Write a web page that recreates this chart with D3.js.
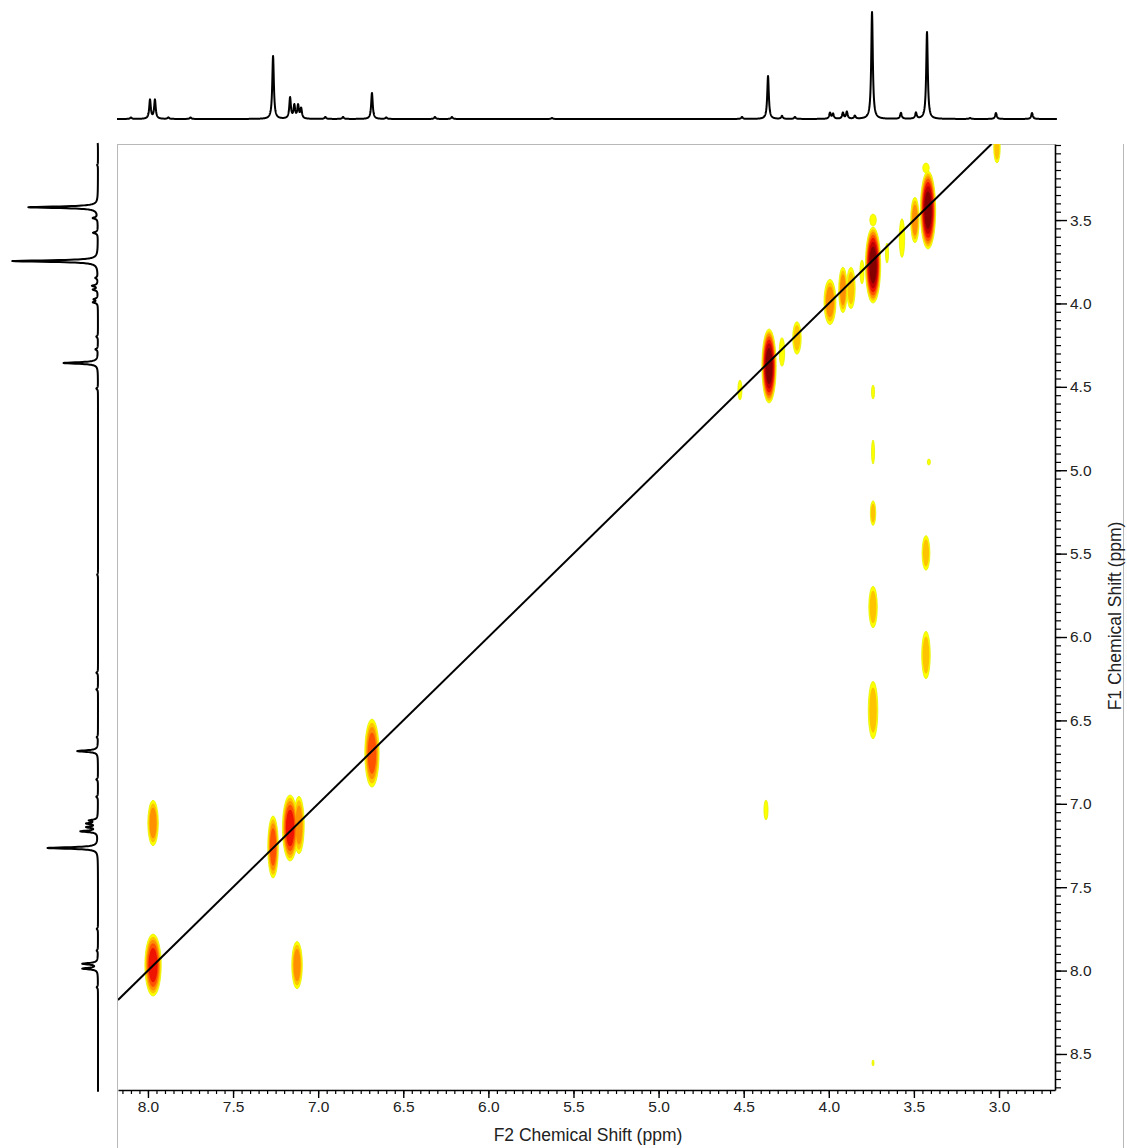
<!DOCTYPE html>
<html>
<head>
<meta charset="utf-8">
<script src="https://cdn.jsdelivr.net/npm/d3@7"></script>
<style>
  html, body { margin: 0; padding: 0; background: #ffffff; }
  svg { display: block; }
  text { font-family: "Liberation Sans", Arial, sans-serif; fill: #222; }
</style>
</head>
<body>
<svg id="chart" width="1127" height="1148"></svg>
<script>
// ---------- DATA ----------
// axis tick labels (ppm)
const f2TickLabels = [8.0, 7.5, 7.0, 6.5, 6.0, 5.5, 5.0, 4.5, 4.0, 3.5, 3.0];
const f1TickLabels = [3.5, 4.0, 4.5, 5.0, 5.5, 6.0, 6.5, 7.0, 7.5, 8.0, 8.5];
const f2Range = [8.176, 2.671];   // displayed F2 window (ppm)
const f1Range = [3.044, 8.716];   // displayed F1 window (ppm)

// 1D projection peaks: shift (ppm), relative height
const peak1DShift  = [8.10, 7.988, 7.959, 7.88, 7.75, 7.265, 7.165, 7.140, 7.118, 7.100, 6.958, 6.854, 6.684, 6.60, 6.314, 6.214, 5.626,
                      4.510, 4.357, 4.275, 4.199, 3.993, 3.975, 3.917, 3.894, 3.847, 3.746, 3.576, 3.488, 3.423, 3.17, 3.018, 2.806];
const peak1DHeight = [1.5, 19, 19, 1.5, 1.5, 63, 21, 13, 13, 10, 2, 2, 26, 1.5, 2, 2, 1,
                      2, 43, 3, 2, 6, 5, 6, 7, 3, 107, 6, 6, 87, 1, 6, 6];

// 2D cross/diagonal peaks: F2 (ppm), F1 (ppm), outer half-widths (ppm), number of contour levels reached
const peak2DF2    = [7.970, 7.970, 7.265, 7.165, 7.113, 7.124, 6.684, 4.351, 4.275, 4.187, 4.522, 3.993, 3.917, 3.870, 3.805, 3.740,
                     3.740, 3.658, 3.570, 3.494, 3.417, 3.429, 3.012, 3.740, 3.740, 3.740, 3.740, 3.740, 3.740, 3.412, 3.429, 3.429, 4.369];
const peak2DF1    = [7.967, 7.115, 7.259, 7.145, 7.127, 7.967, 6.696, 4.375, 4.291, 4.207, 4.519, 3.991, 3.919, 3.907, 3.811, 3.770,
                     3.500, 3.698, 3.608, 3.500, 3.440, 3.188, 3.068, 4.531, 4.891, 5.257, 5.820, 6.438, 8.554, 4.951, 5.496, 6.108, 7.037];
const peak2DWidthF2 = [0.048, 0.031, 0.031, 0.045, 0.031, 0.031, 0.042, 0.042, 0.016, 0.025, 0.012, 0.035, 0.025, 0.025, 0.012, 0.045,
                       0.019, 0.009, 0.016, 0.025, 0.045, 0.019, 0.019, 0.009, 0.009, 0.016, 0.025, 0.028, 0.006, 0.009, 0.023, 0.025, 0.012];
const peak2DWidthF1 = [0.186, 0.136, 0.186, 0.198, 0.172, 0.142, 0.204, 0.222, 0.086, 0.098, 0.060, 0.136, 0.136, 0.124, 0.072, 0.228,
                       0.036, 0.060, 0.116, 0.136, 0.234, 0.030, 0.090, 0.042, 0.072, 0.074, 0.124, 0.172, 0.018, 0.018, 0.104, 0.142, 0.060];
const peak2DLevels  = [5, 3, 4, 5, 3, 3, 4, 7, 1, 2, 1, 3, 3, 2, 1, 7,
                       1, 1, 1, 3, 7, 1, 2, 1, 1, 2, 2, 2, 1, 1, 2, 2, 1];

const contourColors = ["#ffff00", "#ffc400", "#ff9000", "#ff5200", "#ee1400", "#c00000", "#840000"];

// ---------- LAYOUT ----------
const svg = d3.select("#chart");
const plot = { left: 118, right: 1055, top: 144, bottom: 1090 };

const x = d3.scaleLinear().domain(f2Range).range([plot.left, plot.right]);
const y = d3.scaleLinear().domain(f1Range).range([plot.top, plot.bottom]);

// background frame (light grey)
const frame = svg.append("g").attr("stroke", "#b8b8b8").attr("stroke-width", 1).attr("fill", "none");
frame.append("line").attr("x1", plot.left - 0.5).attr("x2", plot.right).attr("y1", plot.top + 0.5).attr("y2", plot.top + 0.5);
frame.append("line").attr("x1", plot.left - 0.5).attr("x2", plot.left - 0.5).attr("y1", plot.top).attr("y2", 1148);
frame.append("line").attr("x1", 1123.5).attr("x2", 1123.5).attr("y1", plot.top).attr("y2", 1148);

// clip for 2D area
svg.append("clipPath").attr("id", "plotClip")
  .append("rect").attr("x", plot.left).attr("y", plot.top)
  .attr("width", plot.right - plot.left).attr("height", plot.bottom - plot.top);

const area = svg.append("g").attr("clip-path", "url(#plotClip)");

// ---------- 2D contours (nested ellipses, drawn level by level) ----------
const peaks2D = peak2DF2.map((f2, i) => ({
  f2, f1: peak2DF1[i], w2: peak2DWidthF2[i], w1: peak2DWidthF1[i], n: peak2DLevels[i]
}));
const pxPerPpmX = Math.abs(x(1) - x(0));
const pxPerPpmY = Math.abs(y(1) - y(0));
function shrink(k, n) { return Math.pow(1 - (k - 1) / (n + 0.3), 0.42); }

for (let k = 1; k <= contourColors.length; k++) {
  const lev = area.append("g");
  const data = peaks2D.filter(p => p.n >= k);
  lev.selectAll("ellipse").data(data).join("ellipse")
    .attr("cx", p => x(p.f2))
    .attr("cy", p => y(p.f1))
    .attr("rx", p => Math.max(0.6, p.w2 * pxPerPpmX * shrink(k, p.n)))
    .attr("ry", p => Math.max(0.8, p.w1 * pxPerPpmY * shrink(k, p.n)))
    .attr("fill", contourColors[k - 1])
    .attr("stroke", k === 1 ? "#e2f200" : "none")
    .attr("stroke-width", k === 1 ? 0.8 : 0);
}

// diagonal F1 = F2
const diagLo = Math.max(f1Range[0], f2Range[1]);
const diagHi = Math.min(f1Range[1], f2Range[0]);
area.append("path")
  .datum([diagHi, diagLo])
  .attr("d", d3.line().x(d => x(d)).y(d => y(d)))
  .attr("stroke", "#000").attr("stroke-width", 2).attr("fill", "none");

// ---------- Axes ----------
const minorF2 = d3.range(54, 164).map(v => v * 0.05).filter(v => v <= f2Range[0] && v >= f2Range[1]);
const minorF1 = d3.range(61, 175).map(v => v * 0.05).filter(v => v >= f1Range[0] && v <= f1Range[1]);
const tickFont = '"Liberation Sans", Arial, sans-serif';

const xAxisMinor = svg.append("g").attr("transform", `translate(0,${plot.bottom})`)
  .call(d3.axisBottom(x).tickValues(minorF2).tickSize(4).tickFormat(""));
xAxisMinor.select(".domain").remove();
xAxisMinor.selectAll("line").attr("stroke", "#000").attr("stroke-width", 1.2);

const xAxis = svg.append("g").attr("transform", `translate(0,${plot.bottom})`)
  .call(d3.axisBottom(x).tickValues(f2TickLabels).tickSize(8).tickSizeOuter(0).tickPadding(3).tickFormat(d3.format(".1f")));
xAxis.select(".domain").attr("stroke", "#000").attr("stroke-width", 1.6);
xAxis.selectAll("line").attr("stroke", "#000").attr("stroke-width", 1.4);
xAxis.selectAll("text").attr("font-size", 15.5).attr("fill", "#1a1a1a").style("font-family", tickFont);

const yAxisMinor = svg.append("g").attr("transform", `translate(${plot.right},0)`)
  .call(d3.axisRight(y).tickValues(minorF1).tickSize(6).tickFormat(""));
yAxisMinor.select(".domain").remove();
yAxisMinor.selectAll("line").attr("stroke", "#000").attr("stroke-width", 1.2);

const yAxis = svg.append("g").attr("transform", `translate(${plot.right},0)`)
  .call(d3.axisRight(y).tickValues(f1TickLabels).tickSize(12).tickSizeOuter(0).tickPadding(3).tickFormat(d3.format(".1f")));
yAxis.select(".domain").attr("stroke", "#000").attr("stroke-width", 1.6);
yAxis.selectAll("line").attr("stroke", "#000").attr("stroke-width", 1.4);
yAxis.selectAll("text").attr("font-size", 15.5).attr("fill", "#1a1a1a").style("font-family", tickFont);

// axis titles
svg.append("text").attr("x", 588).attr("y", 1141).attr("text-anchor", "middle")
  .attr("font-size", 17.5).attr("fill", "#1a1a1a").text("F2 Chemical Shift (ppm)");
svg.append("text").attr("transform", "translate(1121,616) rotate(-90)").attr("text-anchor", "middle")
  .attr("font-size", 17.5).attr("fill", "#1a1a1a").text("F1 Chemical Shift (ppm)");

// ---------- 1D projections ----------
const hwhm = 0.0055;
function intensity(ppm) {
  let s = 0;
  for (let i = 0; i < peak1DShift.length; i++) {
    const d = (ppm - peak1DShift[i]) / hwhm;
    s += peak1DHeight[i] / (1 + d * d);
  }
  return s;
}

// top (F2) trace
const topBase = 119;
const topPts = d3.range(x.invert(117), x.invert(1057), -0.001).map(p => [x(p), topBase - intensity(p)]);
svg.append("path").datum(topPts)
  .attr("d", d3.line())
  .attr("fill", "none").attr("stroke", "#000").attr("stroke-width", 2).attr("stroke-linejoin", "round");

// left (F1) trace, same spectrum scaled
const leftBase = 98;
const leftScale = 0.8;
const leftPts = d3.range(y.invert(143), y.invert(1092), 0.001).map(p => [leftBase - leftScale * intensity(p), y(p)]);
svg.append("path").datum(leftPts)
  .attr("d", d3.line())
  .attr("fill", "none").attr("stroke", "#000").attr("stroke-width", 2).attr("stroke-linejoin", "round");
</script>
</body>
</html>
